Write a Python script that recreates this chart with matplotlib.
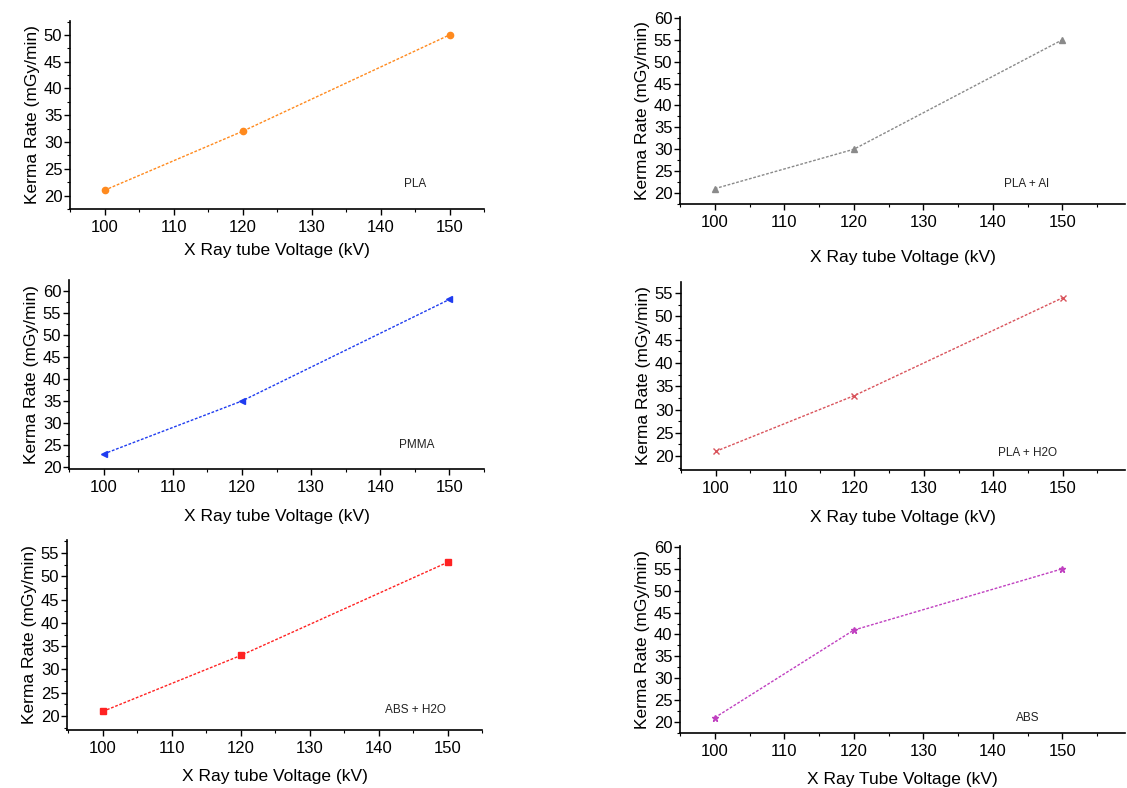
import numpy as np
import matplotlib.pyplot as plt
from matplotlib.ticker import MultipleLocator

plt.rcParams['font.family'] = ['Liberation Sans', 'DejaVu Sans']

# Measured kerma rates (mGy/min) against tube voltage (kV)
voltage = [100, 120, 150]
kerma_pla = [21, 32, 50]
kerma_pla_al = [21, 30, 55]
kerma_pmma = [23, 35, 58]
kerma_pla_h2o = [21, 33, 54]
kerma_abs_h2o = [21, 33, 53]
kerma_abs = [21, 41, 55]

names = ["PLA", "PLA + Al", "PMMA", "PLA + H2O", "ABS + H2O", "ABS"]
series = [kerma_pla, kerma_pla_al, kerma_pmma, kerma_pla_h2o, kerma_abs_h2o, kerma_abs]
colors = ["#ff8a1e", "#8a8a8a", "#1f3cf0", "#d9545c", "#ff2222", "#c040c0"]
markers = ["o", "^", "<", "x", "s", "*"]
xlabels = ["X Ray tube Voltage (kV)"] * 5 + ["X Ray Tube Voltage (kV)"]

W, H = 1127, 788
# axes boxes in pixels: left, right, top, bottom
boxes = [(70, 484, 21, 209), (680, 1125, 17, 204),
         (69, 484, 280, 469), (681, 1125, 282, 470),
         (67, 482, 540, 730), (680, 1125, 546, 733)]
ylims = [(17.5, 52.6), (17.5, 60.2), (19.6, 62.4),
         (17.0, 57.4), (17.0, 57.8), (17.5, 60.2)]
xlims = [(95, 155), (95, 159), (95, 155), (95, 159), (94.8, 155), (95, 159)]
ytick_sets = [np.arange(20, 51, 5), np.arange(20, 61, 5), np.arange(20, 61, 5),
              np.arange(20, 56, 5), np.arange(20, 56, 5), np.arange(20, 61, 5)]
text_pos = [(145, 22.2), (144.8, 22), (145.3, 25), (145, 20.6), (145.4, 21.3), (145, 21)]
label_pads = [6, 14, 10, 10, 9, 9]

fig = plt.figure(figsize=(W / 100, H / 100), dpi=100)

for i in range(6):
    l, r, t, b = boxes[i]
    ax = fig.add_axes([l / W, 1 - b / H, (r - l) / W, (b - t) / H])
    ax.plot(voltage, series[i], color=colors[i], marker=markers[i],
            markersize=4.5, linestyle=(0, (2, 1.2)), linewidth=1,
            markeredgewidth=1, clip_on=False)
    ax.set_xlim(*xlims[i])
    ax.set_ylim(*ylims[i])
    ax.set_xticks([100, 110, 120, 130, 140, 150])
    ax.set_yticks(ytick_sets[i])
    ax.xaxis.set_minor_locator(MultipleLocator(5))
    ax.yaxis.set_minor_locator(MultipleLocator(2.5))
    ax.spines["top"].set_visible(False)
    ax.spines["right"].set_visible(False)
    ax.spines["left"].set_linewidth(1.2)
    ax.spines["bottom"].set_linewidth(1.2)
    ax.tick_params(which="major", direction="out", length=4, width=1, labelsize=12, pad=1.5)
    ax.tick_params(which="minor", direction="out", length=2, width=0.8)
    ax.tick_params(axis="x", pad=4)
    ax.set_xlabel(xlabels[i], fontsize=12.5, labelpad=label_pads[i])
    ax.set_ylabel("Kerma Rate (mGy/min)", fontsize=12.5, labelpad=3)
    ax.text(text_pos[i][0], text_pos[i][1], names[i], fontsize=8.5,
            color="#222222", ha="center", va="center")

fig.savefig("out.png", dpi=100)
